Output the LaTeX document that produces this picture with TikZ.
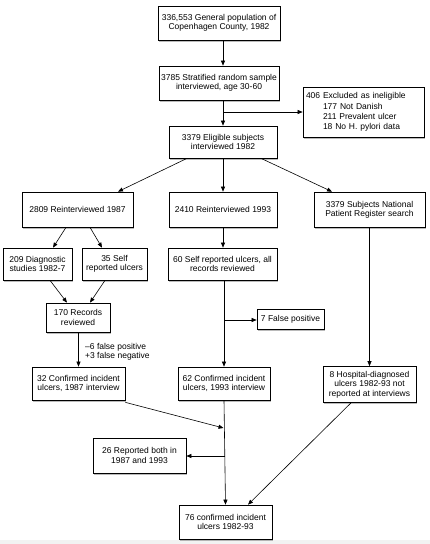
\documentclass[tikz,border=0pt]{standalone}
\usepackage{fontspec}
\setmainfont{Liberation Sans}
\usetikzlibrary{arrows.meta, shadows}

\begin{document}
\begin{tikzpicture}[x=1pt, y=-1pt,
    box/.style={rectangle, draw, line width=0.7pt, fill=white,
                drop shadow={shadow xshift=1.3pt, shadow yshift=-1.6pt,
                             fill=black!45, opacity=0.6},
                inner sep=2pt, align=center,
                font=\fontsize{8.5}{9.4}\selectfont},
    arrow/.style={-{Triangle[length=5pt, width=4pt]}, line width=0.6pt},
    note/.style={inner sep=0pt, align=left,
                 font=\fontsize{8.5}{9.4}\selectfont},
]
\useasboundingbox (0,0) rectangle (430,544);
\fill[gray!10] (0,540) rectangle (430,544);

% ── Top: population and sample ─────────────────────────────────────
\node[box, minimum width=122pt, minimum height=34pt]
      (pop)    at (219,23)    {336,553 General population of\\Copenhagen County, 1982};
\node[box, minimum width=120pt, minimum height=34pt]
      (sample) at (219,83)    {3785 Stratified random sample\\interviewed, age 30-60};
\node[box, text width=115pt, inner xsep=3pt, minimum height=50pt, align=left,
      font=\fontsize{8.5}{10.4}\selectfont]
      (excl)   at (363.5,112) {406 Excluded as ineligible\\
                               \hspace*{17pt}177 Not Danish\\
                               \hspace*{17pt}211 Prevalent ulcer\\
                               \hspace*{17pt}18 No H. pylori data};
\node[box, minimum width=108pt, minimum height=32pt]
      (elig)   at (223,142)   {3379 Eligible subjects\\interviewed 1982};

% ── Row of follow-ups  y=209.5 ─────────────────────────────────────
\node[box, minimum width=111pt, minimum height=35pt]
      (re87)   at (77.5,209.5)  {2809 Reinterviewed 1987};
\node[box, minimum width=108pt, minimum height=35pt]
      (re93)   at (223,209.5)   {2410 Reinterviewed 1993};
\node[box, minimum width=111pt, minimum height=35pt]
      (npr)    at (369.5,209.5) {3379 Subjects National\\Patient Register search};

% ── Row of self reports  y=264 ─────────────────────────────────────
\node[box, minimum width=69pt, minimum height=32pt]
      (diag)   at (37.5,264)    {209 Diagnostic\\studies 1982-7};
\node[box, minimum width=65pt, minimum height=32pt]
      (self35) at (114.5,264)   {35 Self\\reported ulcers};
\node[box, minimum width=109pt, minimum height=32pt]
      (self60) at (222.5,264)   {60 Self reported ulcers, all\\records reviewed};

% ── Records and false positives  y≈318 ─────────────────────────────
\node[box, minimum width=64pt, minimum height=29pt]
      (rec170) at (78,317.5)    {170 Records\\reviewed};
\node[box, minimum width=67pt, minimum height=20pt]
      (fp7)    at (290.5,319)   {7 False positive};
\node[note, anchor=west]
      (fpfn)   at (85,352)      {–6 false positive\\+3 false negative};

% ── Confirmed ulcers  y≈384 ────────────────────────────────────────
\node[box, minimum width=93pt, minimum height=33pt]
      (conf87) at (78.5,383.5)  {32 Confirmed incident\\ulcers, 1987 interview};
\node[box, minimum width=92pt, minimum height=33pt]
      (conf93) at (224,383.5)   {62 Confirmed incident\\ulcers, 1993 interview};
\node[box, minimum width=93pt, minimum height=36pt]
      (hosp)   at (369.5,384.5) {8 Hospital-diagnosed\\ulcers 1982-93 not\\reported at interviews};

% ── Bottom ─────────────────────────────────────────────────────────
\node[box, minimum width=93pt, minimum height=35pt]
      (both)   at (139.5,455.5) {26 Reported both in\\1987 and 1993};
\node[box, minimum width=93pt, minimum height=34pt]
      (total)  at (225.5,522)   {76 confirmed incident\\ulcers 1982-93};

% branch points on the vertical lines
\coordinate (sb)  at (224,112);
\coordinate (b93) at (224,320);
\coordinate (m93) at (223.5,428);
\coordinate (b2)  at (225,456);

% ── Arrows ─────────────────────────────────────────────────────────
\draw[arrow] (pop.south -| elig)    -- (sample.north -| elig);
\draw[arrow] (sample.south -| elig) -- (elig.north);
\draw[arrow] (sb) -- (excl.west |- sb);

\draw[arrow] ([xshift=-36pt]elig.south) -- ([xshift=40.5pt]re87.north);
\draw[arrow] (elig.south) -- (re93.north);
\draw[arrow] ([xshift=38pt]elig.south)  -- ([xshift=-37.5pt]npr.north);

\draw[arrow] ([xshift=-11.5pt]re87.south) -- ([xshift=15.5pt]diag.north);
\draw[arrow] ([xshift=12.5pt]re87.south)  -- ([xshift=-12.5pt]self35.north);
\draw[arrow] (re93.south) -- (self60.north -| re93);

\draw[arrow] ([xshift=12.5pt]diag.south)  -- ([xshift=-11pt]rec170.north);
\draw[arrow] ([xshift=-9.5pt]self35.south) -- ([xshift=12pt]rec170.north);
\draw[arrow] (rec170.south -| conf87) -- (conf87.north);

% 60 self reported → 62 confirmed, 7 false positive split off
\draw[arrow] (self60.south -| conf93) -- (conf93.north);
\draw[arrow] (b93) -- (fp7.west |- b93);

% register search straight down
\draw[arrow] (npr.south) -- (hosp.north);

% 1987 confirmed joins the 1993 line
\draw[arrow] ([yshift=-2pt]conf87.south east) -- (m93);
\draw[arrow] (conf93.south) -- (total.north);
\draw[arrow] (b2) -- (both.east |- b2);
\draw[arrow] ([xshift=-18.5pt]hosp.south) -- ([xshift=22.5pt]total.north);

\end{tikzpicture}
\end{document}
